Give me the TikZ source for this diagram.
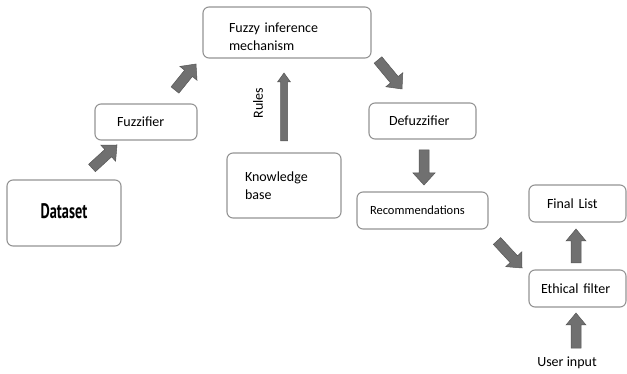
\documentclass[tikz,border=0pt]{standalone}
\usepackage{fontspec}
\setmainfont{Carlito}
\newfontfamily\dsfont{PT Sans}
\usetikzlibrary{calc}
\definecolor{boxline}{HTML}{949494}
\definecolor{afill}{HTML}{707070}
\definecolor{adark}{HTML}{565656}
\tikzset{
  box/.style={draw=boxline, line width=1.1pt, rounded corners=6pt, inner sep=0pt,
    font=\fontsize{14}{17.5}\selectfont},
  lbl/.style={font=\fontsize{14}{17}\selectfont, inner sep=0pt},
  arrowsty/.style={fill=afill, draw=adark, line width=0.5pt, line join=miter},
}
% #1 tail, #2 tip, #3 shaft half width, #4 head half width, #5 head length (numbers in pt)
\newcommand\barrow[5]{%
  \filldraw[arrowsty] let \p1=($(#2)-(#1)$), \n1={atan2(\y1,\x1)}, \n2={veclen(\x1,\y1)-#5} in
    ($(#1)+(\n1+90:{#3*1pt})$) --
    ($(#1)+(\n1+90:{#3*1pt})+(\n1:{\n2*1pt})$) --
    ($(#1)+(\n1+90:{#4*1pt})+(\n1:{\n2*1pt})$) --
    (#2) --
    ($(#1)+(\n1-90:{#4*1pt})+(\n1:{\n2*1pt})$) --
    ($(#1)+(\n1-90:{#3*1pt})+(\n1:{\n2*1pt})$) --
    ($(#1)+(\n1-90:{#3*1pt})$) -- cycle;}
\begin{document}
\begin{tikzpicture}[x=1pt,y=-1pt]
\useasboundingbox (0,0) rectangle (627,374);

\node[box, minimum width=168pt, minimum height=51pt, text width=116pt, align=left] (fim) at (287,32.5) {\rule{0pt}{18pt}Fuzzy inference\\mechanism};
\node[box, minimum width=102pt, minimum height=36pt, text width=58pt, align=left] (fuzz) at (146,122) {Fuzzifier};
\node[box, minimum width=114pt, minimum height=66pt] (data) at (64,213) {\raisebox{3pt}{\dsfont\bfseries\fontsize{21}{24}\selectfont\scalebox{0.68}[1]{Dataset}}};
\node[box, minimum width=114pt, minimum height=65pt, text width=78pt, align=left] (kb) at (284,185.5) {Knowledge\\base};
\node[box, minimum width=107pt, minimum height=36pt, text width=67pt, align=left] (defuzz) at (422.5,121) {Defuzzifier};
\node[box, minimum width=131pt, minimum height=37pt, text width=105pt, align=left, font=\fontsize{12.5}{15}\selectfont] (rec) at (422.5,210.5) {Recommendations};
\node[box, minimum width=97pt, minimum height=37pt, text width=61pt, align=left] (final) at (577.5,203.5) {Final List};
\node[box, minimum width=97pt, minimum height=37pt, text width=73pt, align=left] (eth) at (577.5,288.5) {Ethical filter};

\node[lbl, rotate=90] (rules) at (258,103) {Rules};
\node[lbl] (user) at (567,363) {User input};

\coordinate (a1t) at (92,168);  \coordinate (a1h) at (117,145);
\coordinate (a2t) at (175,90);  \coordinate (a2h) at (196,64);
\coordinate (a3t) at (378,60);  \coordinate (a3h) at (402,89);
\coordinate (a4t) at (424,150); \coordinate (a4h) at (424,185);
\coordinate (a5t) at (497,241); \coordinate (a5h) at (522,268);
\coordinate (a6t) at (576,263); \coordinate (a6h) at (576,229);
\coordinate (a7t) at (576,348); \coordinate (a7h) at (576,313);
\coordinate (rt) at (284,141);  \coordinate (rh) at (284,73);

\barrow{a1t}{a1h}{5}{11}{12}
\barrow{a2t}{a2h}{5}{11}{12}
\barrow{a3t}{a3h}{5}{11}{12}
\barrow{a4t}{a4h}{5}{11}{12}
\barrow{a5t}{a5h}{5}{11}{12}
\barrow{a6t}{a6h}{5}{10}{12}
\barrow{a7t}{a7h}{5}{10}{12}
\barrow{rt}{rh}{3.5}{6.5}{9}
\end{tikzpicture}
\end{document}
